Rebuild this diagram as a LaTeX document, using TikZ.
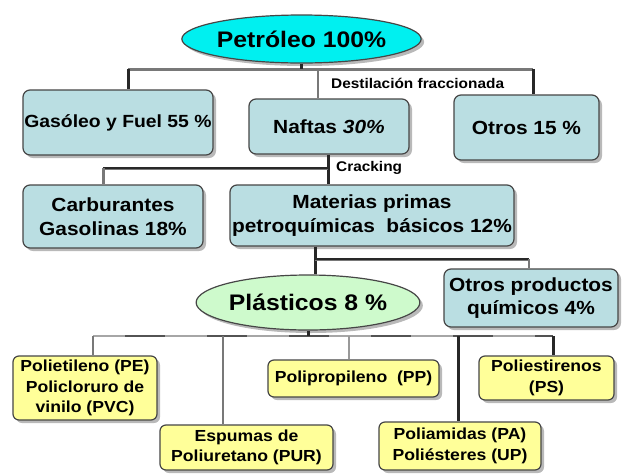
\documentclass[tikz,border=0pt]{standalone}
\usepackage{fontspec}
\setmainfont{Liberation Sans}[FakeStretch=1.1]
\usetikzlibrary{shapes.geometric,shadows}
\definecolor{boxblue}{RGB}{186,222,226}
\definecolor{cyanfill}{RGB}{0,240,240}
\definecolor{greenfill}{RGB}{206,250,204}
\definecolor{yel}{RGB}{255,255,153}
\definecolor{edge}{RGB}{70,70,70}
\definecolor{lineg}{RGB}{120,120,120}
\definecolor{lined}{RGB}{40,40,40}
\begin{document}
\begin{tikzpicture}[x=1pt,y=-1pt,
  shad/.style={drop shadow={shadow xshift=3pt,shadow yshift=-3pt,fill=black!50,opacity=0.55}},
  bluebox/.style={shad,draw=edge,line width=1.2pt,rounded corners=7pt,fill=boxblue,align=center,inner sep=0pt,font=\bfseries\fontsize{19}{23.5}\selectfont},
  yelbox/.style={shad,draw=edge,line width=1.2pt,rounded corners=6pt,fill=yel,align=center,inner sep=0pt,font=\bfseries\fontsize{16}{20.5}\selectfont},
  ovalnode/.style={shad,ellipse,draw=edge,line width=1.2pt,inner sep=0pt,font=\bfseries\fontsize{22.5}{26}\selectfont},
  smalllabel/.style={font=\bfseries\fontsize{14}{16}\selectfont,inner sep=0pt},
  busline/.style={line width=3pt,lineg},
  darkline/.style={line width=3pt,lined},
  thinline/.style={line width=1.3pt,lineg}
]
\fill[white] (0,0) rectangle (622,475);
\useasboundingbox (0,0) rectangle (622,475);

% nodes
\node[ovalnode,fill=cyanfill,minimum width=197,minimum height=48] (pet) at (301.5,39) {Petróleo 100\%};
\node[bluebox,minimum width=190,minimum height=65,font=\bfseries\fontsize{17.6}{21}\selectfont] (gas) at (118,122.5) {Gasóleo y Fuel 55 \%};
\node[bluebox,minimum width=160,minimum height=55] (naf) at (329,126.5) {Naftas {\itshape 30\%}};
\node[bluebox,minimum width=145,minimum height=65] (otr) at (526.5,127.5) {Otros 15 \%};
\node[bluebox,minimum width=180,minimum height=63] (car) at (113,216.5) {Carburantes\\Gasolinas 18\%};
\node[bluebox,minimum width=284,minimum height=61] (mat) at (372,215.5) {Materias primas\\petroquímicas\ \ básicos 12\%};
\node[ovalnode,fill=greenfill,minimum width=200,minimum height=55] (pla) at (308,302.5) {Plásticos 8 \%};
\node[bluebox,minimum width=174,minimum height=58] (opq) at (531,298) {Otros productos\\químicos 4\%};
\node[yelbox,minimum width=144,minimum height=64] (pe) at (85,388) {Polietileno (PE)\\Policloruro de\\vinilo (PVC)};
\node[yelbox,minimum width=173,minimum height=45] (pur) at (246.5,447.5) {Espumas de\\Poliuretano (PUR)};
\node[yelbox,minimum width=171,minimum height=37] (pp) at (353.5,378.5) {Polipropileno\ \ (PP)};
\node[yelbox,minimum width=162,minimum height=48] (pa) at (460,446) {Poliamidas (PA)\\Poliésteres (UP)};
\node[yelbox,minimum width=135,minimum height=44] (ps) at (546.5,378) {Poliestirenos\\(PS)};

\node[smalllabel,anchor=west] (dest) at (331,83) {Destilación fraccionada};
\node[smalllabel,anchor=west] (crk) at (336,168) {Cracking};

% top bus
\coordinate (tL) at (128,69);
\coordinate (tR) at (533,69);
\coordinate (tN) at (318,69);
\draw[busline] (tL) -- (tR);
\draw[darkline] (pet.south) -- (pet.south |- tL);
\draw[darkline] (tL) -- (tL |- gas.north);
\draw[darkline] (tR) -- (tR |- otr.north);
\draw[thinline] (tN) -- (tN |- naf.north);

% cracking
\coordinate (cL) at (103,168);
\coordinate (cR) at (328,168);
\draw[darkline] (cR |- naf.south) -- (cR |- mat.north);
\draw[busline] (cL) -- (cR);
\draw[line width=1.2pt,lined] (cL) -- (cR);
\draw[busline] (cL) -- (cL |- car.north);

% materias
\coordinate (mL) at (315,259);
\coordinate (mR) at (529,259);
\draw[darkline] (mL |- mat.south) -- (mL |- pla.north);
\draw[busline] (mL) -- (mR);
\draw[line width=1.2pt,lined] (mL) -- (mR);
\draw[thinline,line width=2pt] (mR) -- (mR |- opq.north);

% bottom bus
\coordinate (bL) at (93,336);
\coordinate (bR) at (553,336);
\draw[line width=2.5pt,black!35] (bL) -- (bR);
\draw[line width=2.5pt,lined!80,dash pattern=on 40pt off 42pt,dash phase=50pt] (bL) -- (bR);
\draw[darkline] (pla.south) -- (pla.south |- bL);
\coordinate (b1) at (93,336);
\coordinate (b2) at (223,336);
\coordinate (b3) at (349,336);
\coordinate (b4) at (458,336);
\draw[thinline,line width=2pt] (b1) -- (b1 |- pe.north);
\draw[thinline,line width=2pt] (b2) -- (b2 |- pur.north);
\draw[thinline,line width=2pt,black!40] (b3) -- (b3 |- pp.north);
\draw[darkline] (b4) -- (b4 |- pa.north);
\draw[darkline] (bR) -- (bR |- ps.north);
\end{tikzpicture}
\end{document}
